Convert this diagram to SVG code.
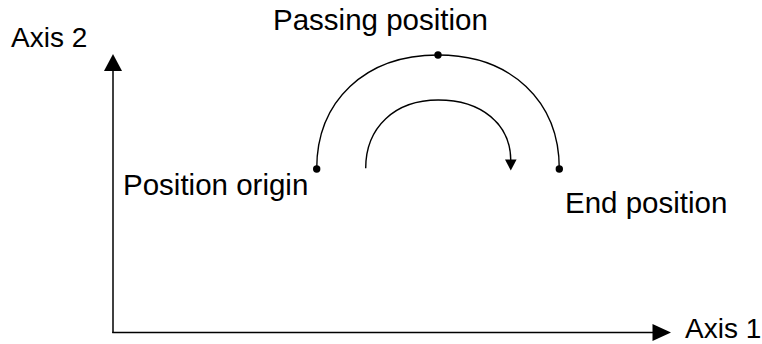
<svg xmlns="http://www.w3.org/2000/svg" width="762" height="344" viewBox="0 0 762 344">
  <style>
    .lbl { font-family: "Liberation Sans", Arial, sans-serif; font-size: 29.5px; fill: #000; }
    .axl { font-family: "Liberation Sans", Arial, sans-serif; font-size: 28px; fill: #000; }
    .ax { stroke: #000; stroke-width: 1.5; fill: none; }
    .arc { stroke: #000; stroke-width: 1.4; fill: none; }
    .head { fill: #000; }
    .dot { fill: #000; }
  </style>
  <rect width="762" height="344" fill="#fff"/>
  <g id="connectors">
    <g id="axis-2-line">
      <line class="ax" x1="113" y1="333" x2="113" y2="70"/>
      <polygon class="head" points="113,54 122,71 104,71"/>
    </g>
    <g id="axis-1-line">
      <line class="ax" x1="112.25" y1="332.5" x2="655" y2="332.5"/>
      <polygon class="head" points="671,332.5 652.5,324 652.5,341"/>
    </g>
    <g id="outer-arc">
      <path class="arc" d="M316.7,169 C316.7,101 365,55 438,55 C511,55 559.3,101 559.3,169"/>
    </g>
    <g id="motion-arc">
      <path class="arc" d="M365.7,168.3 C365.7,127 395,100 438.2,100 C481.5,100 510.8,124 510.8,161"/>
      <polygon class="head" points="505,159.5 516.6,159.5 510.8,170.5"/>
    </g>
  </g>
  <g id="node-origin">
    <circle class="dot" cx="316.7" cy="169" r="3.7"/>
    <text class="lbl" x="123" y="195">Position origin</text>
  </g>
  <g id="node-passing">
    <circle class="dot" cx="438" cy="55" r="3.7"/>
    <text class="lbl" x="273" y="30">Passing position</text>
  </g>
  <g id="node-end">
    <circle class="dot" cx="559.3" cy="169" r="3.7"/>
    <text class="lbl" x="565" y="213">End position</text>
  </g>
  <g id="label-axis-2">
    <text class="axl" x="11" y="47">Axis 2</text>
  </g>
  <g id="label-axis-1">
    <text class="axl" x="685" y="338">Axis 1</text>
  </g>
</svg>
